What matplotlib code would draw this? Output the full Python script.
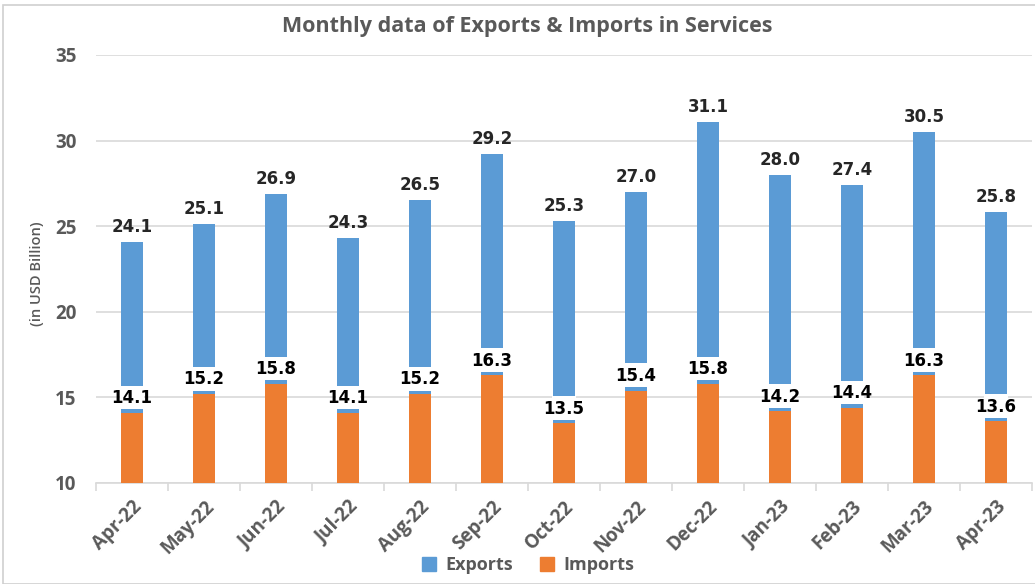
import matplotlib
matplotlib.use("Agg")
import matplotlib.pyplot as plt
from matplotlib.patches import Rectangle
import numpy as np

months = ["Apr-22", "May-22", "Jun-22", "Jul-22", "Aug-22", "Sep-22", "Oct-22",
          "Nov-22", "Dec-22", "Jan-23", "Feb-23", "Mar-23", "Apr-23"]
exports = [24.1, 25.1, 26.9, 24.3, 26.5, 29.2, 25.3, 27.0, 31.1, 28.0, 27.4, 30.5, 25.8]
imports = [14.1, 15.2, 15.8, 14.1, 15.2, 16.3, 13.5, 15.4, 15.8, 14.2, 14.4, 16.3, 13.6]

BLUE = "#5B9BD5"
ORANGE = "#ED7D31"
GREY_TXT = "#595959"
GRID = "#D9D9D9"
BASE = 10

plt.rcParams["font.family"] = ["Open Sans", "DejaVu Sans"]

fig = plt.figure(figsize=(10.35, 5.84), dpi=100)
fig.patches.append(Rectangle((0.003, 0.0), 1.2, 0.991, transform=fig.transFigure,
                             fill=False, edgecolor="#D0D0D0", linewidth=1.2))
ax = fig.add_axes([0.0928, 0.173, 0.9042, 0.733])

x = np.arange(len(months))
w = 0.31
exp = np.array(exports)
imp = np.array(imports)

# exports column, with a white band behind the import value label
ax.bar(x, exp - BASE, bottom=BASE, width=w, color=BLUE, zorder=2)
sliver = 0.2
gap = 1.58
ax.bar(x, gap - sliver, bottom=imp + sliver, width=w + 0.02, color="white", zorder=3)
ax.bar(x, sliver, bottom=imp, width=w, color=BLUE, zorder=3)
ax.bar(x, imp - BASE, bottom=BASE, width=w, color=ORANGE, zorder=4)

val_font = dict(family="DejaVu Sans", fontsize=12, fontweight="bold")
for xi, e, i in zip(x, exp, imp):
    ax.text(xi, e + 0.35, f"{e:.1f}", ha="center", va="bottom", color="#262626",
            zorder=5, **val_font)
    ax.text(xi, i + sliver + 0.12, f"{i:.1f}", ha="center", va="bottom", color="black",
            zorder=5, **val_font)

ax.set_xlim(-0.5, len(months) - 0.5)
ax.set_ylim(10, 35)
ax.set_yticks([10, 15, 20, 25, 30, 35])
ax.yaxis.grid(True, color=GRID, linewidth=1.2, zorder=0)
ax.set_axisbelow(True)

for s in ["top", "right", "left"]:
    ax.spines[s].set_visible(False)
ax.spines["bottom"].set_color(GRID)
ax.spines["bottom"].set_linewidth(1.2)

ax.tick_params(axis="y", length=0, pad=14, labelsize=13.5, labelcolor=GREY_TXT)
for t in ax.get_yticklabels():
    t.set_fontweight("bold")

ax.set_xticks(x)
ax.set_xticklabels(months, rotation=45, ha="right", rotation_mode="anchor",
                   fontsize=13.5, fontweight="bold", color=GREY_TXT)
ax.tick_params(axis="x", which="major", length=0, pad=10)
ax.set_xticks(np.arange(-0.5, len(months)), minor=True)
ax.tick_params(axis="x", which="minor", length=6, color=GRID, width=1.2)

ax.set_ylabel("(in USD Billion)", fontsize=10.5, fontweight="semibold", color=GREY_TXT)
ax.yaxis.set_label_coords(-0.056, 0.49)

fig.text(0.509, 0.955, "Monthly data of Exports & Imports in Services", ha="center",
         va="center", fontsize=15.5, fontweight="bold", color=GREY_TXT)

handles = [Rectangle((0, 0), 1, 1, color=BLUE), Rectangle((0, 0), 1, 1, color=ORANGE)]
fig.legend(handles, ["Exports", "Imports"], loc="center", bbox_to_anchor=(0.51, 0.032),
           ncol=2, frameon=False, handlelength=0.8, handleheight=0.8,
           handletextpad=0.5, columnspacing=1.5, labelcolor=GREY_TXT,
           prop={"weight": "bold", "size": 13})

fig.savefig("out.png", dpi=100)
